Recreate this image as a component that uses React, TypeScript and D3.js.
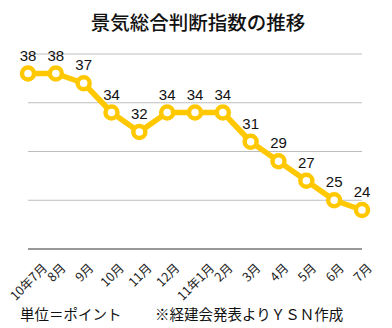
import React from "react";
import * as d3 from "d3";

const categories = ["10年7月", "8月", "9月", "10月", "11月", "12月", "11年1月", "2月", "3月", "4月", "5月", "6月", "7月"];
const values = [38, 38, 37, 34, 32, 34, 34, 34, 31, 29, 27, 25, 24];
const yTicks = [20, 25, 30, 35, 40];
const title = "景気総合判断指数の推移";
const footLeft = "単位＝ポイント";
const footRight = "※経建会発表よりＹＳＮ作成";

const W = 392;
const H = 328;
const LEFT = 28;
const RIGHT = 362;
const TOP = 54;
const BOTTOM = 249;
const YELLOW = "#FFC800";
const FONT = "'Liberation Sans', 'Noto Sans CJK JP', sans-serif";
const JP = "'Noto Sans CJK JP', sans-serif";
const TICK_FS = 12.5;

function textLen(s: string, fs: number) {
  let w = 0;
  for (const ch of s) w += /[0-9]/.test(ch) ? 0.55 : 1;
  return w * fs;
}

export default function App() {
  const x = d3.scalePoint<string>().domain(categories).range([LEFT, RIGHT]).padding(0);
  const y = d3.scaleLinear().domain([20, 40]).range([BOTTOM, TOP]);
  const line = d3
    .line<number>()
    .x((_, i) => x(categories[i])!)
    .y((d) => y(d));

  return (
    <svg
      width={W}
      height={H}
      style={{ position: "absolute", left: 0, top: 0, background: "#fff" }}
      fontFamily={FONT}
    >
      <rect width={W} height={H} fill="#fff" />
      <text x={198} y={30} textAnchor="middle" fontSize={19.5} fontWeight={500} fill="#111" fontFamily={JP}>
        {title}
      </text>
      {yTicks.slice(1).map((t) => (
        <line key={t} x1={LEFT} x2={RIGHT} y1={y(t)} y2={y(t)} stroke="#bdbdbd" strokeWidth={1} />
      ))}
      <line x1={LEFT} x2={RIGHT} y1={y(20)} y2={y(20)} stroke="#333" strokeWidth={1} />
      <path d={line(values) ?? ""} fill="none" stroke={YELLOW} strokeWidth={5.5} strokeLinejoin="round" />
      {values.map((v, i) => (
        <circle key={i} cx={x(categories[i])} cy={y(v)} r={6} fill="#fff" stroke={YELLOW} strokeWidth={4.5} />
      ))}
      {values.map((v, i) => (
        <text key={"l" + i} x={x(categories[i])} y={y(v) - 13} textAnchor="middle" fontSize={15} fill="#111">
          {v}
        </text>
      ))}
      {categories.map((c, i) => {
        const L = textLen(c, TICK_FS);
        const yc = 261 + (L + 0.9 * TICK_FS) * 0.354;
        const xc = Math.max(x(c)!, 3 + (L + 0.9 * TICK_FS) * 0.354);
        return (
          <text
            key={"c" + i}
            transform={`translate(${xc},${yc}) rotate(-45)`}
            textAnchor="middle"
            dominantBaseline="central"
            fontSize={TICK_FS}
            fill="#222"
            fontFamily={JP}
          >
            {c}
          </text>
        );
      })}
      <text x={20} y={320} fontSize={14.5} fill="#111" fontFamily={JP}>
        {footLeft}
      </text>
      <text x={155} y={320} fontSize={14.5} fill="#111" fontFamily={JP}>
        {footRight}
      </text>
    </svg>
  );
}
